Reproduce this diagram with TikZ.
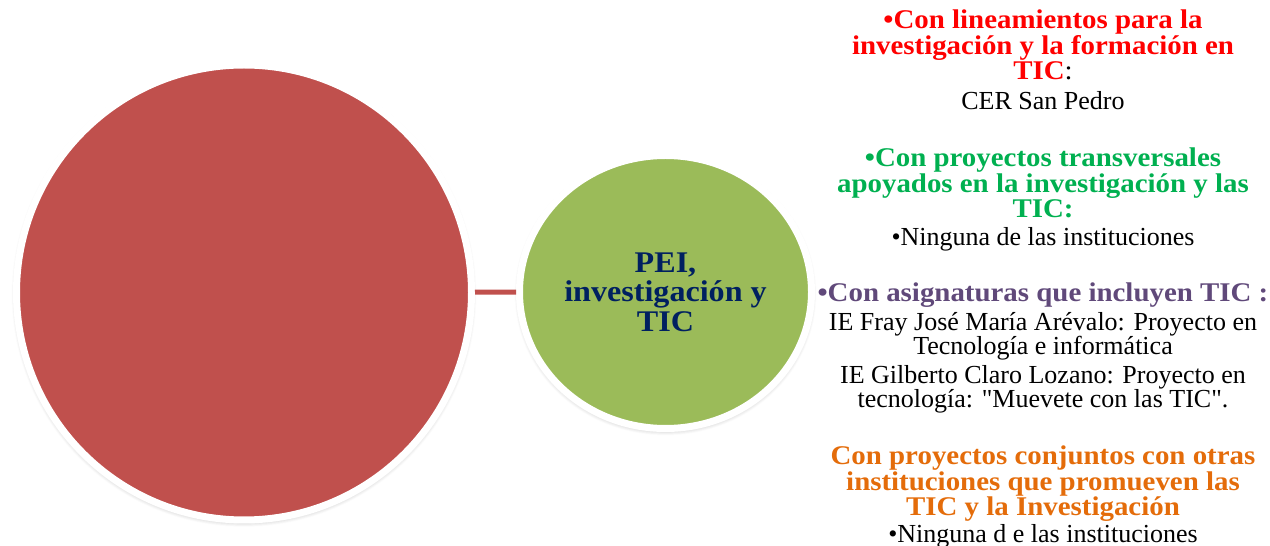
\documentclass[tikz,border=0pt]{standalone}
\usepackage{fontspec}
\setmainfont{Liberation Serif}
\newfontfamily\widefont{Liberation Serif}[FakeStretch=1.07]
\usetikzlibrary{positioning,shapes.geometric,shadows.blur}

\definecolor{coreRed}{RGB}{192,80,77}
\definecolor{peiGreen}{RGB}{155,187,89}
\definecolor{peiText}{RGB}{0,32,96}
\definecolor{hdRed}{RGB}{255,0,0}
\definecolor{hdGreen}{RGB}{0,176,80}
\definecolor{hdPurple}{RGB}{96,73,122}
\definecolor{hdOrange}{RGB}{228,108,10}

% straight double quote, kept out of the tex-text mapping
\newcommand{\dq}{\XeTeXglyph\XeTeXcharglyph"22\relax}
% let lines sit closer than their glyph boxes
\newcommand{\tightlines}{\lineskiplimit=-20pt\relax}

\begin{document}
\begin{tikzpicture}[
  x=1pt, y=1pt,
  disc/.style={draw=white, line width=7pt,
    blur shadow={shadow xshift=0pt, shadow yshift=-2pt, shadow blur radius=5pt,
      shadow blur steps=10, shadow opacity=30}},
  head/.style={anchor=north, align=center, inner sep=0pt,
    font=\widefont\bfseries\fontsize{27}{25.5}\selectfont\tightlines},
  body/.style={anchor=north, align=center, inner sep=0pt,
    font=\fontsize{26}{24}\selectfont\tightlines}
]
\useasboundingbox (0,0) rectangle (1270,546);

% the two discs and their link
\node[disc, circle, fill=coreRed, minimum size=455pt] (core) at (244,253.5) {};
\node[disc, ellipse, fill=peiGreen, minimum width=292pt, minimum height=273pt,
  inner sep=0pt, align=center, text=peiText,
  font=\widefont\bfseries\fontsize{30}{29.5}\selectfont] (pei) at (665.5,254)
  {PEI,\\investigación y\\TIC};
\draw[coreRed, line width=5pt] (core) -- (pei);

% right column
\node[head, text=hdRed] (lin) at (1043,536)
  {\textbullet Con lineamientos para la\\investigación y la formación en\\TIC\textcolor{black}{\mdseries :}};
\node[body] (cer) at (1043,455) {CER San Pedro};

\node[head, text=hdGreen] (trans) at (1043,398)
  {\textbullet Con proyectos transversales\\apoyados en la investigación y las\\TIC:};
\node[body] (ning1) at (1043,319) {\textbullet Ninguna de las instituciones};

\node[head, text=hdPurple] (asig) at (1043,263) {\textbullet Con asignaturas que incluyen TIC :};
\node[body] (ie) at (1043,234)
  {IE Fray José María Arévalo: Proyecto en\\Tecnología e informática\\[5pt]
   IE Gilberto Claro Lozano: Proyecto en\\tecnología: \dq Muevete con las TIC\dq.};

\node[head, text=hdOrange] (conj) at (1043,100)
  {Con proyectos conjuntos con otras\\instituciones que promueven las\\TIC y la Investigación};
\node[body] (ning2) at (1043,22) {\textbullet Ninguna d e las instituciones};
\end{tikzpicture}
\end{document}
